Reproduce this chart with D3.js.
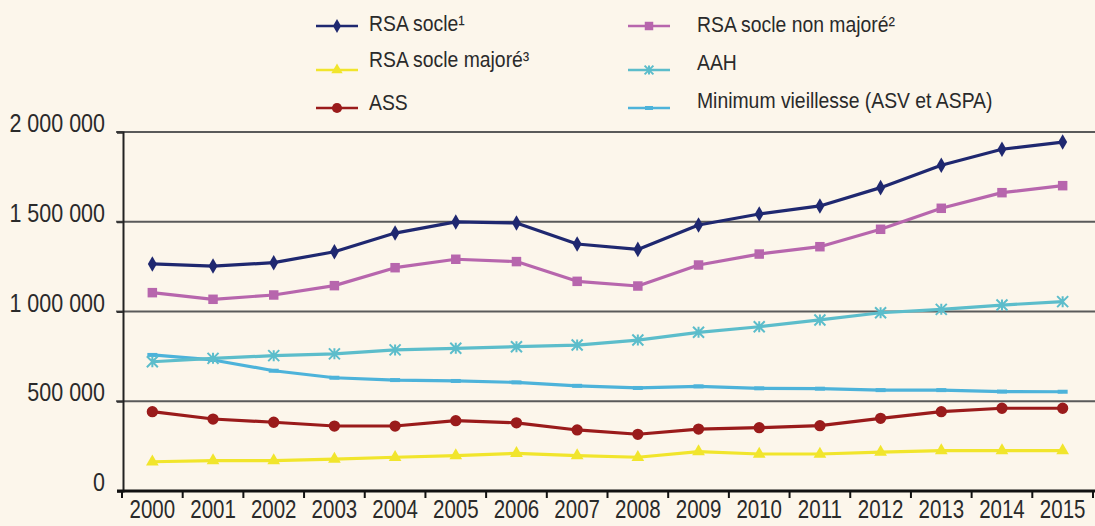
<!DOCTYPE html>
<html><head><meta charset="utf-8">
<script src="https://cdn.jsdelivr.net/npm/d3@7"></script>
<style>
html,body{margin:0;padding:0;background:#fcf6eb;}
svg{display:block;}
text{font-family:"Liberation Sans",Arial,sans-serif;fill:#2a2a2a;}
</style></head><body>
<svg id="chart" width="1095" height="526"></svg>
<script>
const years = ["2000","2001","2002","2003","2004","2005","2006","2007","2008","2009","2010","2011","2012","2013","2014","2015"];
const rsaSocle     = [1265000,1253000,1272000,1333000,1437000,1499000,1493000,1376000,1346000,1482000,1543000,1588000,1690000,1815000,1904000,1944000];
const rsaNonMajore = [1105000,1068000,1092000,1144000,1244000,1291000,1278000,1168000,1142000,1259000,1320000,1361000,1458000,1575000,1662000,1701000];
const rsaMajore    = [163000,169000,169000,178000,188000,197000,210000,197000,188000,219000,206000,206000,217000,225000,225000,225000];
const aah          = [720000,739000,754000,764000,786000,795000,804000,813000,841000,884000,915000,953000,993000,1012000,1036000,1055000];
const ass          = [442000,401000,383000,362000,362000,392000,380000,340000,316000,345000,353000,364000,405000,442000,461000,461000];
const minVieil     = [758000,730000,670000,631000,618000,613000,605000,586000,574000,583000,572000,570000,562000,562000,554000,553000];
const yTicks = [0,500000,1000000,1500000,2000000];
const seriesNames = ["RSA socle¹","RSA socle non majoré²","RSA socle majoré³","AAH","ASS","Minimum vieillesse (ASV et ASPA)"];

const series = [
  {name:seriesNames[0], values:rsaSocle, color:"#1f2870", marker:"diamond"},
  {name:seriesNames[1], values:rsaNonMajore, color:"#b766ad", marker:"square"},
  {name:seriesNames[2], values:rsaMajore, color:"#f1e52c", marker:"triangle"},
  {name:seriesNames[3], values:aah, color:"#5cbdcb", marker:"star"},
  {name:seriesNames[4], values:ass, color:"#9a1b1b", marker:"circle"},
  {name:seriesNames[5], values:minVieil, color:"#4db3da", marker:"dash"}
];

const svg = d3.select("#chart");
const x = d3.scaleBand().domain(years).range([122,1093]);
const y = d3.scaleLinear().domain([0,2000000]).range([491,132]);
const cx = d => x(d) + x.bandwidth()/2;

// gridlines
svg.append("g").selectAll("line").data(yTicks.filter(t=>t>0)).join("line")
  .attr("x1",116).attr("x2",1095).attr("y1",d=>y(d)).attr("y2",d=>y(d))
  .attr("stroke","#5a5a5a").attr("stroke-width",2);

// y axis
const fmt = v => d3.format(",")(v).replace(/,/g," ");
const yAxis = svg.append("g").attr("transform","translate(123,0)")
  .call(d3.axisLeft(y).tickValues(yTicks).tickSize(6).tickFormat(fmt));
yAxis.select(".domain").attr("stroke","#222").attr("stroke-width",2);
yAxis.selectAll(".tick line").attr("stroke","#333").attr("stroke-width",2);
yAxis.selectAll(".tick text").attr("x",0).attr("dy","-0.02em")
  .attr("transform","translate(-18,0) scale(0.86,1)")
  .style("white-space","pre").style("font-size","25px").style("fill","#2a2a2a");

// x axis
const xAxis = svg.append("g").attr("transform","translate(0,491)")
  .call(d3.axisBottom(x).tickSize(0).tickPadding(9));
xAxis.select(".domain").remove();
xAxis.selectAll(".tick text").style("font-size","25px").style("fill","#2a2a2a")
  .attr("dy","0.72em").attr("transform","scale(0.82,1)");
svg.append("line").attr("x1",117).attr("x2",1095).attr("y1",491).attr("y2",491)
  .attr("stroke","#111").attr("stroke-width",3);
svg.append("g").selectAll("line").data(years.concat(["end"])).join("line")
  .attr("x1",(d,i)=> i<years.length ? x(d) : x(years[years.length-1])+x.bandwidth())
  .attr("x2",(d,i)=> i<years.length ? x(d) : x(years[years.length-1])+x.bandwidth())
  .attr("y1",491).attr("y2",498).attr("stroke","#111").attr("stroke-width",2);

// marker drawing
function drawMarker(g, type, color, size){
  if(type==="diamond"){
    g.append("path").attr("d",d3.symbol(d3.symbolDiamond, size*7)()).attr("fill",color);
  } else if(type==="square"){
    g.append("path").attr("d",d3.symbol(d3.symbolSquare, size*9)()).attr("fill",color);
  } else if(type==="triangle"){
    g.append("path").attr("d",d3.symbol(d3.symbolTriangle, size*7)()).attr("fill",color);
  } else if(type==="circle"){
    g.append("path").attr("d",d3.symbol(d3.symbolCircle, size*10)()).attr("fill",color);
  } else if(type==="star"){
    const r=size*0.55;
    g.append("path").attr("d",`M${-r},${-r}L${r},${r}M${-r},${r}L${r},${-r}M0,${-r}L0,${r}`)
      .attr("stroke",color).attr("stroke-width",2).attr("fill","none");
  } else if(type==="dash"){
    g.append("path").attr("d",`M${-size*0.5},0L${size*0.5},0`).attr("stroke",color).attr("stroke-width",4);
  }
}

const line = d3.line().x(d=>cx(d.year)).y(d=>y(d.v));
const drawOrder = [5,3,2,4,1,0];
drawOrder.forEach(i=>{
  const s = series[i];
  const pts = years.map((yr,j)=>({year:yr, v:s.values[j]}));
  svg.append("path").datum(pts).attr("d",line).attr("fill","none")
    .attr("stroke",s.color).attr("stroke-width",3.2).attr("stroke-linejoin","round");
  pts.forEach(p=>{
    const g = svg.append("g").attr("transform",`translate(${cx(p.year)},${y(p.v)})`);
    drawMarker(g, s.marker, s.color, 10);
  });
});

// legend
const legendPos = [
  {lx:316, tx:369, ly:26, ty:31}, {lx:628, tx:697, ly:26, ty:32},
  {lx:316, tx:369, ly:70, ty:67}, {lx:628, tx:697, ly:70, ty:70},
  {lx:316, tx:369, ly:108, ty:110}, {lx:628, tx:697, ly:108, ty:108}
];
series.forEach((s,i)=>{
  const p = legendPos[i];
  const lw = 42;
  svg.append("line").attr("x1",p.lx).attr("x2",p.lx+lw).attr("y1",p.ly).attr("y2",p.ly)
    .attr("stroke",s.color).attr("stroke-width",2.5);
  const g = svg.append("g").attr("transform",`translate(${p.lx+lw/2},${p.ly})`);
  drawMarker(g, s.marker, s.color, 8);
  svg.append("text").attr("transform",`translate(${p.tx},${p.ty}) scale(0.88,1)`)
    .style("font-size","22px").text(s.name);
});
</script>
</body></html>
